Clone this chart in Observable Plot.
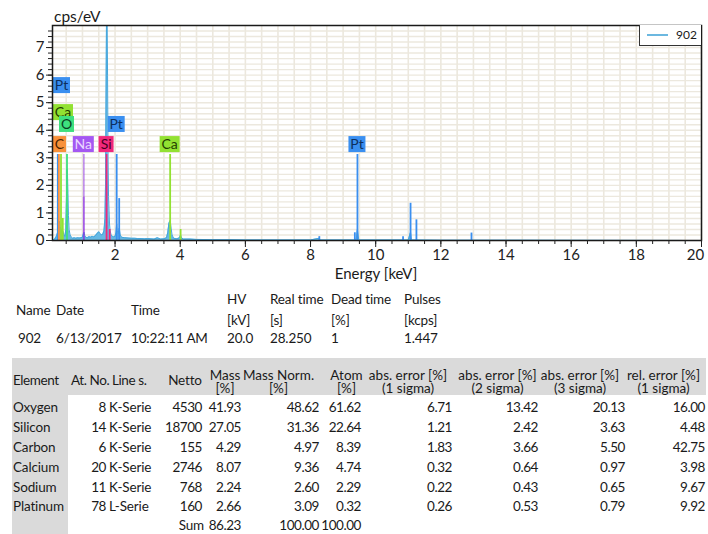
<!DOCTYPE html>
<html><head><meta charset="utf-8">
<script src="https://cdn.jsdelivr.net/npm/d3@7"></script>
<script src="https://cdn.jsdelivr.net/npm/@observablehq/plot@0.6"></script>
<style>
body{margin:0;background:#fff;font-family:Lato,"Open Sans",sans-serif;color:#1a1a1a;}
#wrap{position:relative;width:708px;height:534px;overflow:hidden;background:#fff;}
#chart{position:absolute;left:0;top:0;}
#chart svg{overflow:visible;}
.t{position:absolute;white-space:nowrap;font-size:13.5px;letter-spacing:-0.15px;line-height:14px;height:14px;margin-top:-7px;}
.n{letter-spacing:-0.45px;}
.c{letter-spacing:-0.4px;}
.h{line-height:12px;height:12px;margin-top:-6px;letter-spacing:0;}
.bg{position:absolute;background:#dadada;}
</style></head><body><div id="wrap"><div id="chart"></div></div>
<script>
// ---------- spectrum data (energy keV, cps/eV) ----------
const spectrumKeV = [0.08,0.15,0.2,0.24,0.27,0.29,0.31,0.35,0.4,0.43,0.46,0.49,0.51,0.525,0.54,0.555,0.57,0.59,0.62,0.66,0.7,0.75,0.8,0.85,0.9,0.95,1.0,1.03,1.05,1.07,1.1,1.15,1.2,1.25,1.3,1.35,1.4,1.45,1.5,1.53,1.57,1.62,1.66,1.69,1.71,1.725,1.74,1.755,1.77,1.785,1.8,1.815,1.83,1.85,1.88,1.92,1.96,2.0,2.03,2.05,2.07,2.1,2.13,2.16,2.2,2.3,2.4,2.5,2.6,2.7,2.8,2.9,3.0,3.1,3.2,3.3,3.4,3.5,3.58,3.62,3.65,3.68,3.7,3.72,3.75,3.8,3.9,3.98,4.01,4.04,4.1,4.3,4.5,5.0,5.5,6.0,7.0,8.0,8.27,8.3,9.0,9.4,9.44,9.48,10.0,11.0,11.07,11.1,12.0,13.0,14.0,20];
const spectrumCps = [0,0.05,0.15,0.3,0.6,0.7,0.5,0.4,0.35,0.2,0.15,0.4,1.6,2.6,2.4,1.7,0.9,0.4,0.2,0.12,0.08,0.1,0.08,0.1,0.09,0.1,0.12,0.25,0.3,0.18,0.12,0.1,0.14,0.12,0.15,0.13,0.18,0.25,0.32,0.28,0.2,0.22,0.35,0.8,2.2,5.5,8.5,8.5,6.0,3.0,1.6,1.1,0.6,0.35,0.2,0.15,0.13,0.15,0.3,0.6,0.35,0.25,0.45,0.2,0.12,0.1,0.09,0.08,0.08,0.07,0.07,0.06,0.07,0.06,0.05,0.1,0.05,0.06,0.1,0.3,0.6,0.72,0.65,0.45,0.2,0.08,0.06,0.1,0.2,0.1,0.05,0.05,0.04,0.03,0.03,0.02,0.02,0.02,0.08,0.02,0.02,0.02,0.4,0.02,0.02,0.02,0.3,0.02,0.01,0.01,0.01,0];
const spectrum = spectrumKeV.map((k, i) => ({keV: k, cps: spectrumCps[i]}));

// ---------- element marker lines ----------
const markerElements = ["Pt","C","Ca","Ca","O","Na","Na","Si","Si","Pt","Pt","Ca","Ca","Pt","Pt","Pt","Pt","Pt","Pt","Pt"];
const markerKeV      = [0.243,0.277,0.341,0.395,0.525,1.041,1.041,1.740,1.836,2.050,2.127,3.691,4.012,8.27,9.36,9.44,10.84,11.07,11.25,12.94];
const markerCps      = [3.12,3.12,3.12,0.8,3.12,3.12,1.57,3.12,0.4,3.12,1.52,3.12,0.4,0.14,0.28,3.12,0.14,1.35,0.75,0.27];
const markerLines = markerKeV.map((k, i) => ({el: markerElements[i], keV: k, cps: markerCps[i]}));

// ---------- peak labels ----------
const labelElements = ["Pt","Ca","O","C","Na","Si","Pt","Ca","Pt"];
const labelKeV      = [0.243,0.341,0.525,0.277,1.041,1.740,2.050,3.691,9.44];
const labelCps      = [5.62,4.64,4.21,3.48,3.48,3.48,4.21,3.48,3.48];
const peakLabels = labelElements.map((e, i) => ({el: e, keV: labelKeV[i], cps: labelCps[i]}));

const elementColors = {Pt:"#3a8ff0", C:"#f8913a", Ca:"#92e132", O:"#3ee07e", Na:"#8a2be2", Si:"#f0287c"};
const labelFill = {Pt:"#3a8ff0", C:"#f8913a", Ca:"#92e132", O:"#3ee07e", Na:"#a457f2", Si:"#f0287c"};
const labelTextColor = {Pt:"#0d2f5e", C:"#4a2200", Ca:"#243d00", O:"#0a3d22", Na:"#ead7ff", Si:"#45001f"};

// ---------- axes ----------
const xTickLabels = [2,4,6,8,10,12,14,16,18];
const xLastLabel = [20];
const yTickLabels = [0,1,2,3,4,5,6,7];
const minorX = d3.range(0.5, 20.01, 0.5);
const minorY = d3.range(0, 7.8, 0.2);

// ---------- acquisition info ----------
const metaHeaders = ["Name","Date","Time","HV","Real time","Dead time","Pulses"];
const metaUnits   = ["","","","[kV]","[s]","[%]","[kcps]"];
const metaValues  = ["902","6/13/2017","10:22:11 AM","20.0","28.250","1","1.447"];

// ---------- quantification table ----------
const elements   = ["Oxygen","Silicon","Carbon","Calcium","Sodium","Platinum"];
const atNo       = [8,14,6,20,11,78];
const lineSeries = ["K-Serie","K-Serie","K-Serie","K-Serie","K-Serie","L-Serie"];
const netto      = [4530,18700,155,2746,768,160];
const massPct    = [41.93,27.05,4.29,8.07,2.24,2.66];
const massNorm   = [48.62,31.36,4.97,9.36,2.60,3.09];
const atomPct    = [61.62,22.64,8.39,4.74,2.29,0.32];
const absErr1    = [6.71,1.21,1.83,0.32,0.22,0.26];
const absErr2    = [13.42,2.42,3.66,0.64,0.43,0.53];
const absErr3    = [20.13,3.63,5.50,0.97,0.65,0.79];
const relErr1    = [16.00,4.48,42.75,3.98,9.67,9.92];
const sumMass = 86.23, sumNorm = 100.00, sumAtom = 100.00;

// ---------- chart ----------
const measure = document.createElement("canvas").getContext("2d");
measure.font = "14px Lato";
const labelMark = Plot.text(peakLabels, {
  x: "keV", y: "cps", text: "el",
  render(index, scales, values, dims) {
    const g = d3.create("svg:g").attr("font-family", "Lato, sans-serif").attr("font-size", 14);
    for (const i of index) {
      const d = peakLabels[i];
      const w = Math.round(measure.measureText(d.el).width) + 4;
      const cx = Math.max(values.x[i], dims.marginLeft + w / 2 + 1);
      const cy = values.y[i];
      g.append("rect").attr("x", cx - w / 2).attr("y", cy - 8).attr("width", w).attr("height", 16).attr("fill", labelFill[d.el]);
      g.append("text").attr("x", cx).attr("y", cy).attr("dy", "0.36em").attr("text-anchor", "middle")
        .attr("fill", labelTextColor[d.el]).text(d.el);
    }
    return g.node();
  }
});

const chart = Plot.plot({
  width: 708, height: 282,
  marginLeft: 52, marginRight: 7, marginTop: 25, marginBottom: 42,
  x: {domain: [0.08, 20]},
  y: {domain: [0, 7.8]},
  style: {fontFamily: "Lato, 'Open Sans', sans-serif", fontSize: "15px", color: "#222", background: "white", overflow: "visible"},
  marks: [
    Plot.ruleX(minorX, {stroke: "#ece8de", strokeWidth: 1.6}),
    Plot.ruleY(minorY, {stroke: "#ece8de", strokeWidth: 1.4}),
    Plot.areaY(spectrum, {x: "keV", y: "cps", fill: "#66b9e4", clip: true}),
    Plot.lineY(spectrum, {x: "keV", y: "cps", stroke: "#45a6dc", strokeWidth: 1, clip: true}),
    Plot.ruleX(markerLines, {x: "keV", y1: 0, y2: "cps", stroke: d => elementColors[d.el], strokeWidth: 1.8,
      strokeOpacity: d => d.el === "Na" ? 0.5 : 1}),
    labelMark,
    Plot.frame({stroke: "#1a1a1a", strokeWidth: 1.5}),
    Plot.axisX({ticks: minorX, tickSize: 4, tickFormat: () => "", label: null}),
    Plot.axisX({ticks: xTickLabels.concat(xLastLabel), tickSize: 7, tickFormat: () => "", label: null}),
    Plot.axisX({ticks: xTickLabels, tickSize: 0, tickPadding: 9, label: null}),
    Plot.axisX({ticks: xLastLabel, tickSize: 0, tickPadding: 9, dx: -6, label: null}),
    Plot.axisY({ticks: minorY, tickSize: 4, tickFormat: () => "", label: null}),
    Plot.axisY({ticks: yTickLabels, tickSize: 6, tickPadding: 2, label: null})
  ]
});
document.getElementById("chart").append(chart);

// ---------- html overlays ----------
const wrap = document.getElementById("wrap");
function put(txt, x, y, opts = {}) {
  const el = document.createElement("div");
  el.className = "t" + (opts.cls ? " " + opts.cls : "");
  el.textContent = txt;
  el.style.top = y + "px";
  if (opts.align === "right") el.style.right = (708 - x) + "px";
  else if (opts.align === "center") { el.style.left = x + "px"; el.style.transform = "translateX(-50%)"; }
  else el.style.left = x + "px";
  if (opts.size) { el.style.fontSize = opts.size + "px"; el.style.letterSpacing = "0"; }
  wrap.append(el);
  return el;
}
function box(x, y, w, h, cls, style = {}) {
  const el = document.createElement("div");
  el.className = cls;
  Object.assign(el.style, {position: "absolute", left: x + "px", top: y + "px", width: w + "px", height: h + "px"}, style);
  wrap.append(el);
  return el;
}
put("cps/eV", 54, 16, {size: 15.5});
put("Energy [keV]", 376, 273, {align: "center", size: 15});

// legend
box(639, 25, 62, 21, "", {background: "#fff", borderLeft: "1.5px solid #333", borderBottom: "1.5px solid #333", boxSizing: "border-box"});
box(647, 34, 21, 1.5, "", {background: "#6cb8e0"});
put("902", 697, 35, {align: "right", size: 12});

// acquisition table
const metaLeft = [16, 56, 131, 227, 270, 331, 404];
metaHeaders.forEach((h, i) => {
  if (metaUnits[i]) { put(h, metaLeft[i], 299); put(metaUnits[i], metaLeft[i], 320); }
  else put(h, metaLeft[i], 310);
  put(metaValues[i], metaLeft[i] + (i === 0 ? 2 : 0), 338);
});

// quantification table
box(12, 358, 694, 37, "bg");
box(12, 358, 56, 176, "bg");
const rowY = [407, 427, 447, 467, 487, 506];
const sumY = 525;
put("Element", 13, 380, {cls: "c"});
put("At. No.", 71, 380, {cls: "c"});
put("Line s.", 112, 380, {cls: "c"});
put("Netto", 185, 380, {align: "center"});
const twoLine = [
  ["Mass", "[%]", 225], ["Mass Norm.", "[%]", 278.5], ["Atom", "[%]", 346.5],
  ["abs. error [%]", "(1 sigma)", 408], ["abs. error [%]", "(2 sigma)", 497.5],
  ["abs. error [%]", "(3 sigma)", 580], ["rel. error [%]", "(1 sigma)", 663.5]
];
twoLine.forEach(([a, b, cx]) => { put(a, cx, 375, {align: "center", cls: "h"}); put(b, cx, 388, {align: "center", cls: "h"}); });
const f2 = v => v.toFixed(2);
const num = (v, x, y) => put(v, x, y, {align: "right", cls: "n"});
elements.forEach((e, i) => {
  const y = rowY[i];
  put(e, 13, y);
  num(String(atNo[i]), 106, y);
  put(lineSeries[i], 109, y);
  num(String(netto[i]), 202, y);
  num(f2(massPct[i]), 241, y);
  num(f2(massNorm[i]), 319, y);
  num(f2(atomPct[i]), 361, y);
  num(f2(absErr1[i]), 452, y);
  num(f2(absErr2[i]), 538, y);
  num(f2(absErr3[i]), 625, y);
  num(f2(relErr1[i]), 705, y);
});
put("Sum", 204, sumY, {align: "right"});
num(f2(sumMass), 241, sumY);
num(f2(sumNorm), 319, sumY);
num(f2(sumAtom), 361, sumY);
</script>
</body></html>
